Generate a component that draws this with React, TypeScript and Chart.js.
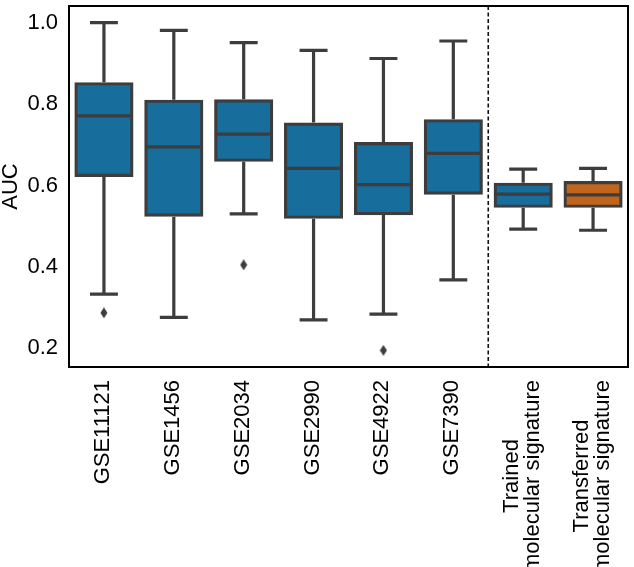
import React, { useEffect, useRef } from "react";
import { Chart, registerables } from "chart.js";

Chart.register(...registerables);

const categories = [
  "GSE11121",
  "GSE1456",
  "GSE2034",
  "GSE2990",
  "GSE4922",
  "GSE7390",
  "Trained molecular signature",
  "Transferred molecular signature",
];
const categoryLines = [
  ["GSE11121"],
  ["GSE1456"],
  ["GSE2034"],
  ["GSE2990"],
  ["GSE4922"],
  ["GSE7390"],
  ["Trained", "molecular signature"],
  ["Transferred", "molecular signature"],
];
const whiskerLow = [0.333, 0.276, 0.53, 0.27, 0.284, 0.368, 0.493, 0.49];
const q1 = [0.625, 0.527, 0.662, 0.522, 0.531, 0.581, 0.549, 0.549];
const medians = [0.771, 0.695, 0.726, 0.642, 0.602, 0.679, 0.579, 0.577];
const q3 = [0.85, 0.807, 0.808, 0.751, 0.703, 0.759, 0.603, 0.607];
const whiskerHigh = [1.0, 0.981, 0.951, 0.932, 0.912, 0.955, 0.64, 0.642];
const outlierCategories = ["GSE11121", "GSE2034", "GSE4922"];
const outlierValues = [0.287, 0.405, 0.195];
const boxColors = [
  "#176d9c",
  "#176d9c",
  "#176d9c",
  "#176d9c",
  "#176d9c",
  "#176d9c",
  "#176d9c",
  "#c2651c",
];
const yTicks = [0.2, 0.4, 0.6, 0.8, 1.0];
const yMin = 0.154;
const yMax = 1.041;

const LINE = "#3d3d3d";
const FONT = "'Liberation Sans', Arial, sans-serif";
const FS = 22;

function makeDiamond() {
  const c = document.createElement("canvas");
  c.width = 8;
  c.height = 11;
  const g = c.getContext("2d")!;
  g.fillStyle = LINE;
  g.beginPath();
  g.moveTo(4, 0);
  g.lineTo(7.5, 5.5);
  g.lineTo(4, 11);
  g.lineTo(0.5, 5.5);
  g.closePath();
  g.fill();
  return c;
}

const boxPlugin = {
  id: "boxParts",
  afterDatasetsDraw(chart: any) {
    const ctx = chart.ctx;
    const ys = chart.scales.y;
    const meta = chart.getDatasetMeta(0);
    ctx.save();
    ctx.strokeStyle = LINE;
    ctx.lineWidth = 3.2;
    ctx.lineCap = "butt";
    meta.data.forEach((bar: any, i: number) => {
      const x = bar.x;
      const w = bar.width;
      const yLo = ys.getPixelForValue(whiskerLow[i]);
      const yQ1 = ys.getPixelForValue(q1[i]);
      const yMed = ys.getPixelForValue(medians[i]);
      const yQ3 = ys.getPixelForValue(q3[i]);
      const yHi = ys.getPixelForValue(whiskerHigh[i]);
      ctx.beginPath();
      ctx.moveTo(x, yQ1 + 1.5);
      ctx.lineTo(x, yLo);
      ctx.moveTo(x, yQ3 - 1.5);
      ctx.lineTo(x, yHi);
      ctx.moveTo(x - w / 4, yLo);
      ctx.lineTo(x + w / 4, yLo);
      ctx.moveTo(x - w / 4, yHi);
      ctx.lineTo(x + w / 4, yHi);
      ctx.moveTo(x - w / 2, yMed);
      ctx.lineTo(x + w / 2, yMed);
      ctx.stroke();
    });
    ctx.restore();
  },
  afterDraw(chart: any) {
    const ctx = chart.ctx;
    const area = chart.chartArea;
    const xs = chart.scales.x;
    ctx.save();
    const xd = (xs.getPixelForValue(5) + xs.getPixelForValue(6)) / 2;
    ctx.strokeStyle = "#111";
    ctx.lineWidth = 1.6;
    ctx.setLineDash([4, 2.5]);
    ctx.beginPath();
    ctx.moveTo(xd, area.top);
    ctx.lineTo(xd, area.bottom);
    ctx.stroke();
    ctx.setLineDash([]);
    ctx.strokeStyle = "#000";
    ctx.lineWidth = 2;
    ctx.strokeRect(area.left, area.top, area.right - area.left, area.bottom - area.top);
    ctx.fillStyle = "#000";
    ctx.font = `${FS}px ${FONT}`;
    ctx.textAlign = "center";
    ctx.textBaseline = "alphabetic";
    categoryLines.forEach((lines, i) => {
      const x = xs.getPixelForValue(i);
      const maxW = Math.max(...lines.map((l) => ctx.measureText(l).width));
      ctx.save();
      ctx.translate(x, area.bottom + 13);
      ctx.rotate(-Math.PI / 2);
      lines.forEach((l, j) => {
        ctx.fillText(l, -maxW / 2, 5 + (j - (lines.length - 1) / 2) * 21);
      });
      ctx.restore();
    });
    ctx.restore();
  },
};

export default function App() {
  const ref = useRef<HTMLCanvasElement>(null);
  useEffect(() => {
    if (!ref.current) return;
    const diamond = makeDiamond();
    const outlierData = categories.map((c) => {
      const k = outlierCategories.indexOf(c);
      return k >= 0 ? outlierValues[k] : null;
    });
    const chart = new Chart(ref.current, {
      type: "bar",
      data: {
        labels: categories,
        datasets: [
          {
            type: "bar",
            data: q1.map((v, i) => [v, q3[i]]) as any,
            backgroundColor: boxColors,
            borderColor: LINE,
            borderWidth: 3.2,
            borderSkipped: false,
            barPercentage: 0.8,
            categoryPercentage: 1,
            inflateAmount: 1.6,
            order: 2,
          } as any,
          {
            type: "line",
            data: outlierData as any,
            showLine: false,
            pointStyle: diamond as any,
            pointRadius: 5,
            borderColor: LINE,
            backgroundColor: LINE,
            order: 1,
          } as any,
        ],
      },
      options: {
        animation: false,
        responsive: false,
        maintainAspectRatio: false,
        layout: { padding: { top: 1, right: 2, left: 0, bottom: 0 } },
        plugins: {
          legend: { display: false },
          tooltip: { enabled: false },
        },
        scales: {
          x: {
            type: "category",
            offset: true,
            grid: { display: false, drawTicks: false },
            border: { display: false },
            ticks: { display: false },
            afterFit: (s: any) => {
              s.height = 200;
              s.paddingLeft = 0;
              s.paddingRight = 0;
            },
          },
          y: {
            min: yMin,
            max: yMax,
            grid: { display: false, drawTicks: false },
            border: { display: false },
            afterBuildTicks: (s: any) => {
              s.ticks = yTicks.map((v) => ({ value: v }));
            },
            afterFit: (s: any) => {
              s.width = 69;
              s.paddingTop = 0;
              s.paddingBottom = 0;
            },
            ticks: {
              padding: 11,
              color: "#000",
              font: { size: FS, family: FONT },
              callback: (v: any) => Number(v).toFixed(1),
            },
            title: {
              display: true,
              text: "AUC",
              color: "#000",
              padding: 0,
              font: { size: FS, family: FONT, lineHeight: 1 },
            },
          },
        },
      } as any,
      plugins: [boxPlugin],
    });
    return () => chart.destroy();
  }, []);
  return (
    <div style={{ position: "fixed", left: 0, top: 0, width: 634, height: 567, background: "#fff" }}>
      <canvas ref={ref} width={634} height={567} style={{ display: "block" }} />
    </div>
  );
}
